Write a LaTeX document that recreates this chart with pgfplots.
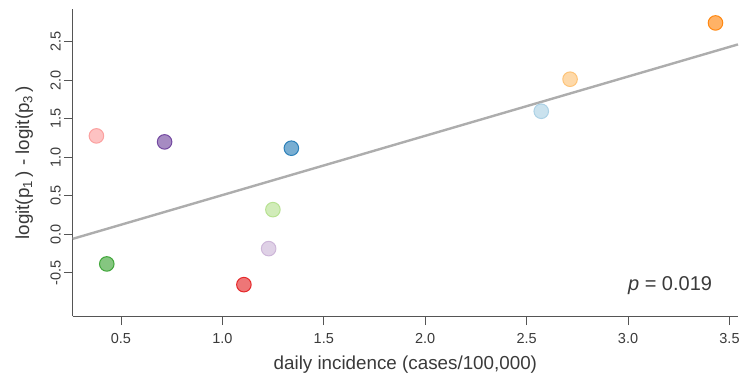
\documentclass[border=0pt]{standalone}
\usepackage{fontspec}
\setmainfont{Liberation Sans}
\usepackage{pgfplots}
\pgfplotsset{compat=1.18}
\definecolor{pA}{HTML}{A6CEE3}
\definecolor{pB}{HTML}{1F78B4}
\definecolor{pC}{HTML}{B2DF8A}
\definecolor{pD}{HTML}{33A02C}
\definecolor{pE}{HTML}{FB9A99}
\definecolor{pF}{HTML}{E31A1C}
\definecolor{pG}{HTML}{FDBF6F}
\definecolor{pH}{HTML}{FF7F00}
\definecolor{pI}{HTML}{CAB2D6}
\definecolor{pJ}{HTML}{6A3D9A}
\definecolor{axcol}{HTML}{555555}
\definecolor{txtcol}{HTML}{3A3A3A}
\pgfplotsset{dot/.style={only marks, mark=*, mark size=7.3pt, line width=1pt, mark options={draw=#1, fill=#1, fill opacity=0.6, draw opacity=0.9}}}
\begin{document}
\begin{tikzpicture}
\begin{axis}[
  scale only axis,
  width=665.3pt, height=307pt,
  xmin=0.262, xmax=3.542, ymin=-1.066, ymax=2.921,
  axis x line*=bottom, axis y line*=left,
  axis line style={-, draw=axcol, line width=0.9pt},
  tick style={draw=axcol, line width=0.9pt},
  tick align=outside, major tick length=8.7pt,
  xtick={0.5,1.0,1.5,2.0,2.5,3.0,3.5},
  xticklabels={0.5,1.0,1.5,2.0,2.5,3.0,3.5},
  ytick={-0.5,0,0.5,1.0,1.5,2.0,2.5},
  yticklabels={-0.5,0.0,0.5,1.0,1.5,2.0,2.5},
  ticklabel style={font=\fontsize{14.5}{16}\selectfont, text=txtcol},
  yticklabel style={rotate=90, anchor=south, inner sep=3pt},
  xticklabel style={inner sep=3pt, yshift=-5pt},
  xlabel={daily incidence (cases/100,000)},
  ylabel={logit(p\textsubscript{1}\,) - logit(p\textsubscript{3}\,)},
  label style={font=\fontsize{18.8}{21}\selectfont, text=txtcol},
  xlabel style={yshift=-6pt},
  ylabel style={yshift=11pt},
  clip=false,
]
\coordinate (sw) at (rel axis cs:0,0);
\coordinate (ne) at (rel axis cs:1,1);
\addplot[no marks, draw=black!32, line width=2.4pt] coordinates {(0.262,-0.060) (3.542,2.465)};
\addplot[dot=pE] coordinates {(0.379,1.277)};
\addplot[dot=pJ] coordinates {(0.715,1.199)};
\addplot[dot=pB] coordinates {(1.340,1.117)};
\addplot[dot=pC] coordinates {(1.249,0.319)};
\addplot[dot=pI] coordinates {(1.228,-0.187)};
\addplot[dot=pD] coordinates {(0.430,-0.386)};
\addplot[dot=pF] coordinates {(1.106,-0.655)};
\addplot[dot=pA] coordinates {(2.572,1.597)};
\addplot[dot=pG] coordinates {(2.714,2.013)};
\addplot[dot=pH] coordinates {(3.431,2.744)};
\node[font=\fontsize{20}{22}\selectfont, text=txtcol] at (axis cs:3.207,-0.671) {\textit{p} = 0.019};
\end{axis}
\pgfresetboundingbox
\path[use as bounding box] ([xshift=-72.7pt,yshift=-57.7pt]sw) rectangle ([xshift=2pt,yshift=9.3pt]ne);
\end{tikzpicture}
\end{document}
